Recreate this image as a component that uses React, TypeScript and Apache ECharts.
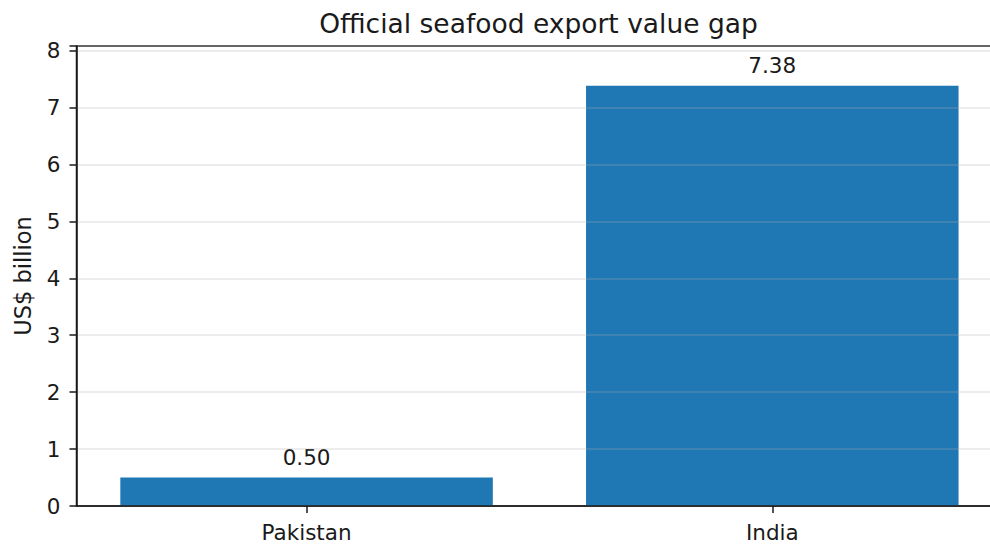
import React, { useEffect, useRef } from "react";
import * as echarts from "echarts";

const categories: string[] = ["Pakistan", "India"];
const values: number[] = [0.5, 7.38];
const yTicks: number[] = [0, 1, 2, 3, 4, 5, 6, 7, 8];
const titleText = "Official seafood export value gap";
const yAxisName = "US$ billion";

const FONT = "DejaVu Sans";
const TEXT = "#1a1a1a";

export default function App() {
  const ref = useRef<HTMLDivElement>(null);

  useEffect(() => {
    if (!ref.current) return;
    const chart = echarts.init(ref.current, undefined, { renderer: "svg" });
    const option: any = {
      animation: false,
      backgroundColor: "#ffffff",
      textStyle: { fontFamily: FONT },
      title: {
        text: titleText,
        left: 538.5,
        top: 10,
        padding: 0,
        textAlign: "center",
        textStyle: { fontFamily: FONT, fontSize: 26.5, fontWeight: "normal", color: TEXT },
      },
      grid: {
        left: 76.5,
        top: 46,
        width: 924,
        height: 460,
        containLabel: false,
        outerBoundsMode: "none",
        show: true,
        borderColor: TEXT,
        borderWidth: 1.5,
        backgroundColor: "transparent",
      },
      xAxis: {
        type: "value",
        min: -0.494,
        max: 1.49,
        z: 3,
        splitLine: { show: false },
        axisLine: { show: true, onZero: false, lineStyle: { color: TEXT, width: 1.5 } },
        axisTick: {
          show: true,
          length: 7,
          customValues: categories.map((_, i) => i),
          lineStyle: { color: TEXT, width: 1.5 },
        },
        axisLabel: {
          show: true,
          customValues: categories.map((_, i) => i),
          formatter: (v: number) => categories[Math.round(v)] ?? "",
          margin: 15.5,
          fontFamily: FONT,
          fontSize: 21.5,
          color: TEXT,
        },
      },
      yAxis: {
        type: "value",
        min: yTicks[0],
        max: 8.08,
        interval: 1,
        z: 3,
        name: yAxisName,
        nameLocation: "middle",
        nameGap: 42,
        nameTextStyle: { fontFamily: FONT, fontSize: 22.5, color: TEXT },
        axisLine: { show: true, onZero: false, lineStyle: { color: TEXT, width: 1.5 } },
        axisTick: { show: true, length: 7, lineStyle: { color: TEXT, width: 1.5 } },
        axisLabel: {
          margin: 16,
          fontFamily: FONT,
          fontSize: 21.5,
          color: TEXT,
          showMaxLabel: true,
          formatter: (v: number) => (yTicks.includes(v) ? String(v) : ""),
        },
        splitLine: { show: true, lineStyle: { color: "rgba(176,176,176,0.3)", width: 1.5 } },
      },
      series: [
        {
          type: "bar",
          data: categories.map((_, i) => [i, values[i]]),
          barWidth: 372.5,
          itemStyle: { color: "#1f77b4" },
          label: {
            show: true,
            position: "top",
            distance: 9,
            formatter: (p: any) => Number(p.value[1]).toFixed(2),
            fontFamily: FONT,
            fontSize: 21.5,
            color: TEXT,
          },
        },
      ],
    };
    chart.setOption(option);
    return () => chart.dispose();
  }, []);

  return (
    <div
      ref={ref}
      style={{ position: "fixed", left: 0, top: 0, width: 990, height: 544 }}
    />
  );
}
